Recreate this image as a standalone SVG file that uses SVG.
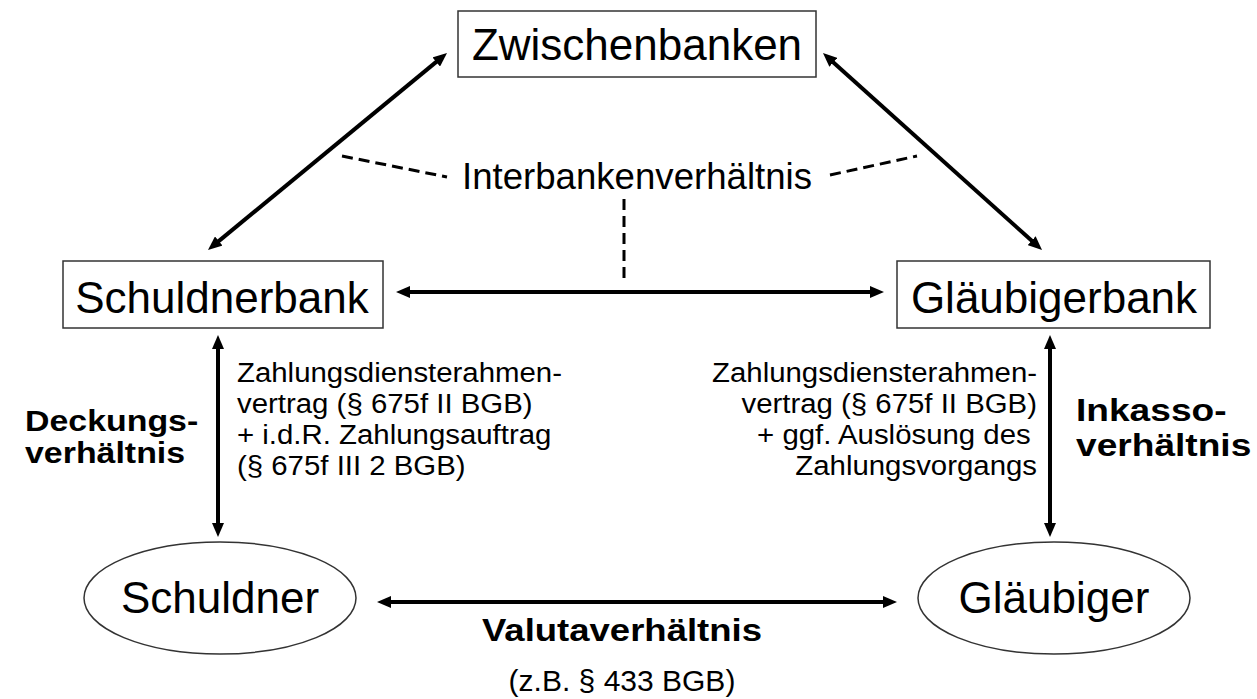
<svg xmlns="http://www.w3.org/2000/svg" width="1257" height="699" viewBox="0 0 1257 699">
<defs>
<style>
text{font-family:"Liberation Sans",Arial,sans-serif;fill:#000}
.node{font-size:44px}
.lbl{font-size:28px}
.bold{font-weight:bold}
.box{fill:#fff;stroke:#333;stroke-width:1.5}
.arrow{stroke:#000;stroke-width:4;fill:none;marker-start:url(#ah);marker-end:url(#ah)}
.dash{stroke:#000;stroke-width:3;stroke-dasharray:11 6;fill:none}
</style>
<marker id="ah" viewBox="0 0 14 12" markerWidth="14" markerHeight="12" refX="4" refY="6" orient="auto-start-reverse" markerUnits="userSpaceOnUse">
<path d="M0,0 L14,6 L0,12 z" fill="#000"/>
</marker>
</defs>
<rect width="1257" height="699" fill="#fff"/>
<g id="connectors">
<line class="arrow" x1="215.7" y1="243.6" x2="439.3" y2="59.4"/>
<line class="arrow" x1="830.4" y1="59.7" x2="1034.6" y2="243.3"/>
<line class="arrow" x1="406" y1="292" x2="874" y2="292"/>
<line class="arrow" x1="387" y1="602" x2="887" y2="602"/>
<line class="arrow" x1="218" y1="345" x2="218" y2="527"/>
<line class="arrow" x1="1050" y1="345" x2="1050" y2="527"/>
<line class="dash" x1="342" y1="156" x2="447" y2="177"/>
<line class="dash" x1="830" y1="175" x2="917" y2="156"/>
<line class="dash" x1="624" y1="199" x2="624" y2="283"/>
</g>
<g id="zwischenbanken">
<rect class="box" x="458" y="11" width="358" height="66"/>
<text class="node" x="637" y="60" text-anchor="middle">Zwischenbanken</text>
</g>
<g id="schuldnerbank">
<rect class="box" x="63" y="261" width="320" height="67"/>
<text class="node" x="222" y="313" text-anchor="middle">Schuldnerbank</text>
</g>
<g id="glaeubigerbank">
<rect class="box" x="897" y="261" width="313" height="67"/>
<text class="node" x="1054" y="313" text-anchor="middle">Gläubigerbank</text>
</g>
<g id="schuldner">
<ellipse class="box" cx="220" cy="598" rx="136" ry="56"/>
<text class="node" x="220" y="613" text-anchor="middle">Schuldner</text>
</g>
<g id="glaeubiger">
<ellipse class="box" cx="1054" cy="598" rx="136" ry="56"/>
<text class="node" x="1054" y="613" text-anchor="middle">Gläubiger</text>
</g>
<g id="interbank-label">
<text x="462" y="189" font-size="36" textLength="350" lengthAdjust="spacingAndGlyphs">Interbankenverhältnis</text>
</g>
<g id="deckung-label">
<g transform="matrix(1.13,0,0,1,25,0)">
<text class="bold" font-size="30" x="0" y="431">Deckungs-</text>
<text class="bold" font-size="30" x="0" y="463">verhältnis</text>
</g>
<g transform="matrix(1.05,0,0,1,237,0)">
<text class="lbl" x="0" y="382">Zahlungsdiensterahmen-</text>
<text class="lbl" x="0" y="413">vertrag (§ 675f II BGB)</text>
<text class="lbl" x="0" y="444">+ i.d.R. Zahlungsauftrag</text>
<text class="lbl" x="0" y="475">(§ 675f III 2 BGB)</text>
</g>
</g>
<g id="inkasso-label">
<g transform="matrix(1.16,0,0,1,1076,0)">
<text class="bold" font-size="32" x="0" y="421">Inkasso-</text>
<text class="bold" font-size="32" x="0" y="456">verhältnis</text>
</g>
<g transform="matrix(1.05,0,0,1,1037,0)">
<text class="lbl" x="0" y="382" text-anchor="end">Zahlungsdiensterahmen-</text>
<text class="lbl" x="0" y="413" text-anchor="end">vertrag (§ 675f II BGB)</text>
<text class="lbl" x="-6" y="444" text-anchor="end">+ ggf. Auslösung des</text>
<text class="lbl" x="0" y="475" text-anchor="end">Zahlungsvorgangs</text>
</g>
</g>
<g id="valuta-label">
<text x="622" y="641" font-size="32" font-weight="bold" text-anchor="middle" textLength="280" lengthAdjust="spacingAndGlyphs">Valutaverhältnis</text>
<text x="622" y="691" font-size="30" text-anchor="middle">(z.B. § 433 BGB)</text>
</g>
</svg>
